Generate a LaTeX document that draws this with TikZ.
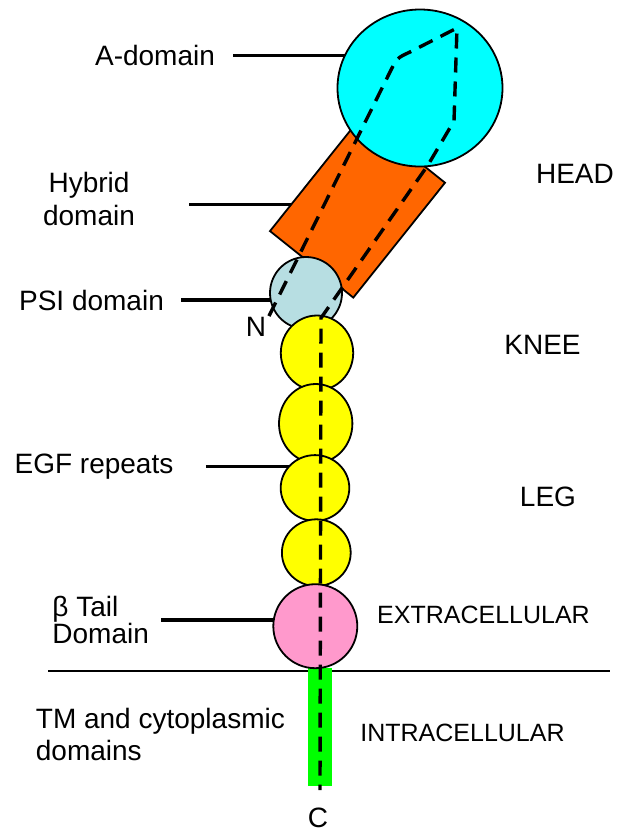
\documentclass[tikz,border=0pt]{standalone}
\usepackage{fontspec}
\setmainfont{Liberation Sans}
\usetikzlibrary{shapes.geometric,backgrounds}

\definecolor{adomcyan}{RGB}{0,255,255}
\definecolor{hybridorange}{RGB}{255,102,0}
\definecolor{psiblue}{RGB}{183,222,226}
\definecolor{egfyellow}{RGB}{255,255,0}
\definecolor{tailpink}{RGB}{255,153,204}
\definecolor{tmgreen}{RGB}{0,255,0}

\tikzset{
  blob/.style={draw, line width=0.9pt, inner sep=0pt, outer sep=0pt},
  ball/.style={blob, ellipse},
  lbl/.style={font=\fontsize{14}{16.5}\selectfont, inner sep=0pt},
  zone/.style={font=\fontsize{12.5}{15}\selectfont, inner sep=0pt},
  pointer/.style={line width=1.6pt},
  backbone/.style={line width=1.7pt, dash pattern=on 7.5pt off 4.5pt}
}

\begin{document}
\begin{tikzpicture}[x=0.5pt,y=-0.5pt]
        \useasboundingbox (0,0) rectangle (621,832);

        % Membrane
        \draw[line width=1.2pt] (48,670.7) -- (610,670.7);
        \node[fill=tmgreen, inner sep=0pt, minimum width=11.7pt, minimum height=58.9pt] (tm) at (320,726.9) {};

        % Head
        \node[blob, fill=hybridorange, rotate=51.4, minimum width=73.5pt, minimum height=53.3pt] (hybrid) at (357.5,206.9) {};
        \node[ball, fill=adomcyan, minimum width=82.5pt, minimum height=78.5pt] (adom) at (420,88) {};
        \node[ball, fill=psiblue, minimum size=36pt] (psi) at (306,293) {};

        % Leg
        \node[ball, fill=egfyellow, minimum width=36.2pt, minimum height=37.5pt] (egfa) at (317,353) {};
        \node[ball, fill=egfyellow, minimum width=36.7pt, minimum height=39.5pt] (egfb) at (315.7,423.5) {};
        \node[ball, fill=egfyellow, minimum width=34.3pt, minimum height=32.9pt] (egfc) at (315,488) {};
        \node[ball, fill=egfyellow, minimum width=34.4pt, minimum height=33.4pt] (egfd) at (316.3,552.7) {};
        \node[ball, fill=tailpink, minimum size=42pt] (tail) at (315.3,626.2) {};

        % Chain from N to C
        \draw[backbone] (269,316) -- (390,72) .. controls (397,58) .. (410,52) -- (457,28)
            -- (454,121) -- (428,165) -- (321,318) -- (320,790);

        % Domain labels
        \node[lbl, anchor=base] (adomlbl) at (155,65.7) {A-domain};
        \node[lbl, anchor=base, align=center] (hyblbl) at (89,225.7) {Hybrid\\domain};
        \node[lbl, anchor=base] (psilbl) at (91.5,310) {PSI domain};
        \node[lbl, anchor=base] (egflbl) at (94,473.3) {EGF repeats};
        \node[lbl, anchor=base west, align=left, font=\fontsize{14}{13.4}\selectfont] (taillbl) at (52,643.3) {β Tail\\Domain};
        \node[lbl, anchor=base west, align=left, font=\fontsize{14}{15.9}\selectfont] (tmlbl) at (35.5,760) {TM and cytoplasmic\\domains};
        \node[lbl, anchor=base] (nterm) at (256,336) {N};
        \node[lbl, anchor=base] (cterm) at (318,827) {C};

        % Regions
        \node[lbl, anchor=base] (head) at (575,183.3) {HEAD};
        \node[lbl, anchor=base] (knee) at (542.5,354) {KNEE};
        \node[lbl, anchor=base] (leg) at (548,506.7) {LEG};
        \node[zone, anchor=base] (extra) at (483.5,623.3) {EXTRACELLULAR};
        \node[zone, anchor=base] (intra) at (462.5,741.7) {INTRACELLULAR};

        % Pointer lines
        \begin{scope}[on background layer]
            \draw[pointer, shorten <=9pt] (adomlbl.east) -- (adomlbl.east -| adom.center);
            \draw[pointer, shorten <=27pt] ([yshift=-2.5pt]hyblbl.east) -- ([yshift=-2.5pt]hyblbl.east -| hybrid.center);
            \draw[pointer, shorten <=8.5pt] (psilbl.east) -- (psilbl.east -| psi.center);
            \draw[pointer, shorten <=16pt] (egflbl.east) -- (egflbl.east -| egfc.center);
            \draw[pointer, shorten <=6pt] (taillbl.east) -- (taillbl.east -| tail.center);
        \end{scope}
    \end{tikzpicture}
\end{document}
